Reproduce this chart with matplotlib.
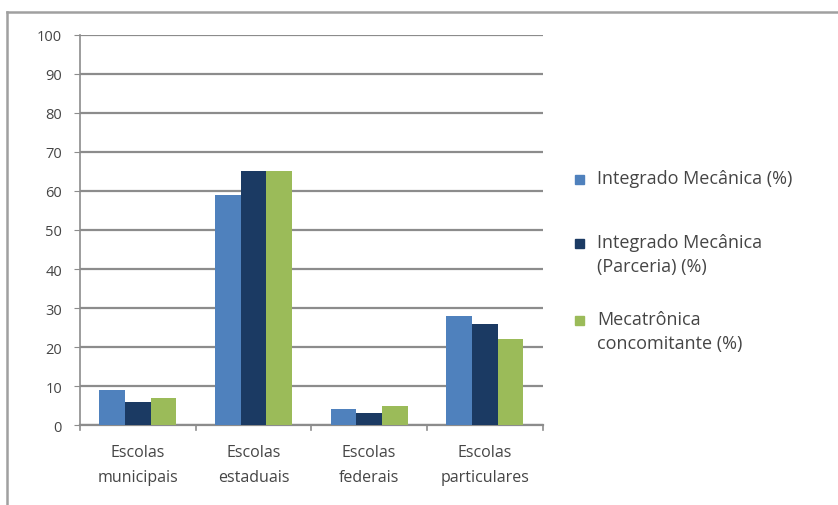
import numpy as np
import matplotlib
matplotlib.use("Agg")
import matplotlib.pyplot as plt
from matplotlib.patches import Rectangle
from matplotlib.lines import Line2D

plt.rcParams['font.family'] = ['Open Sans', 'DejaVu Sans']

# Dados
categorias = ['Escolas\nmunicipais', 'Escolas\nestaduais', 'Escolas\nfederais', 'Escolas\nparticulares']
integrado = [9, 59, 4, 28]
integrado_parceria = [6, 65, 3, 26]
mecatronica = [7, 65, 5, 22]
series_nomes = ['Integrado Mecânica (%)', 'Integrado Mecânica\n(Parceria) (%)', 'Mecatrônica\nconcomitante (%)']
cores = ['#4F81BD', '#1B3A63', '#9BBB59']

texto_cor = '#454545'
grade_cor = '#8c8c8c'

fig = plt.figure(figsize=(8.38, 5.06), dpi=100)
ax = fig.add_axes([0.0955, 0.158, 0.552, 0.771])

x = np.arange(len(categorias))
w = 0.222
for i, (vals, cor) in enumerate(zip([integrado, integrado_parceria, mecatronica], cores)):
    ax.bar(x + (i - 1) * w, vals, width=w, color=cor, zorder=3)

ax.set_xlim(-0.5, len(categorias) - 0.5)
ax.set_ylim(0, 100)
ax.set_yticks(range(0, 101, 10))
ax.set_xticks(x)
ax.set_xticklabels(categorias, fontsize=11.5, color=texto_cor, linespacing=1.75)
ax.tick_params(axis='y', labelsize=10.5, labelcolor=texto_cor, length=4, color=grade_cor, pad=9)
ax.tick_params(axis='x', length=0, pad=14)
# separadores das categorias
for b in np.arange(-0.5, len(categorias), 1):
    ax.plot([b, b], [0, -1.2], color=grade_cor, lw=1.2, clip_on=False, zorder=4)

ax.yaxis.grid(True, color=grade_cor, lw=1.6, zorder=0)
for s in ['top', 'right']:
    ax.spines[s].set_visible(False)
ax.spines['left'].set_color(grade_cor)
ax.spines['bottom'].set_color(grade_cor)
ax.spines['left'].set_linewidth(1.2)
ax.spines['bottom'].set_linewidth(1.6)

# legenda manual
W, H = 838, 506
legenda_y = [181, 245, 322]
for nome, cor, yy in zip(series_nomes, cores, legenda_y):
    fig.patches.append(Rectangle((575 / W, 1 - (yy + 4) / H), 9 / W, 9 / H,
                                 transform=fig.transFigure, color=cor))
    fig.text(597 / W, 1 - (yy - 11) / H, nome, fontsize=13, color=texto_cor,
             va='top', ha='left', linespacing=1.45)

# moldura do gráfico
fig.add_artist(Line2D([7 / W, 1], [1 - 13 / H, 1 - 13 / H], color='#a0a0a0', lw=1.8, transform=fig.transFigure))
fig.add_artist(Line2D([7 / W, 7 / W], [0, 1 - 13 / H], color='#a0a0a0', lw=1.8, transform=fig.transFigure))

fig.savefig('out.png', dpi=100)
